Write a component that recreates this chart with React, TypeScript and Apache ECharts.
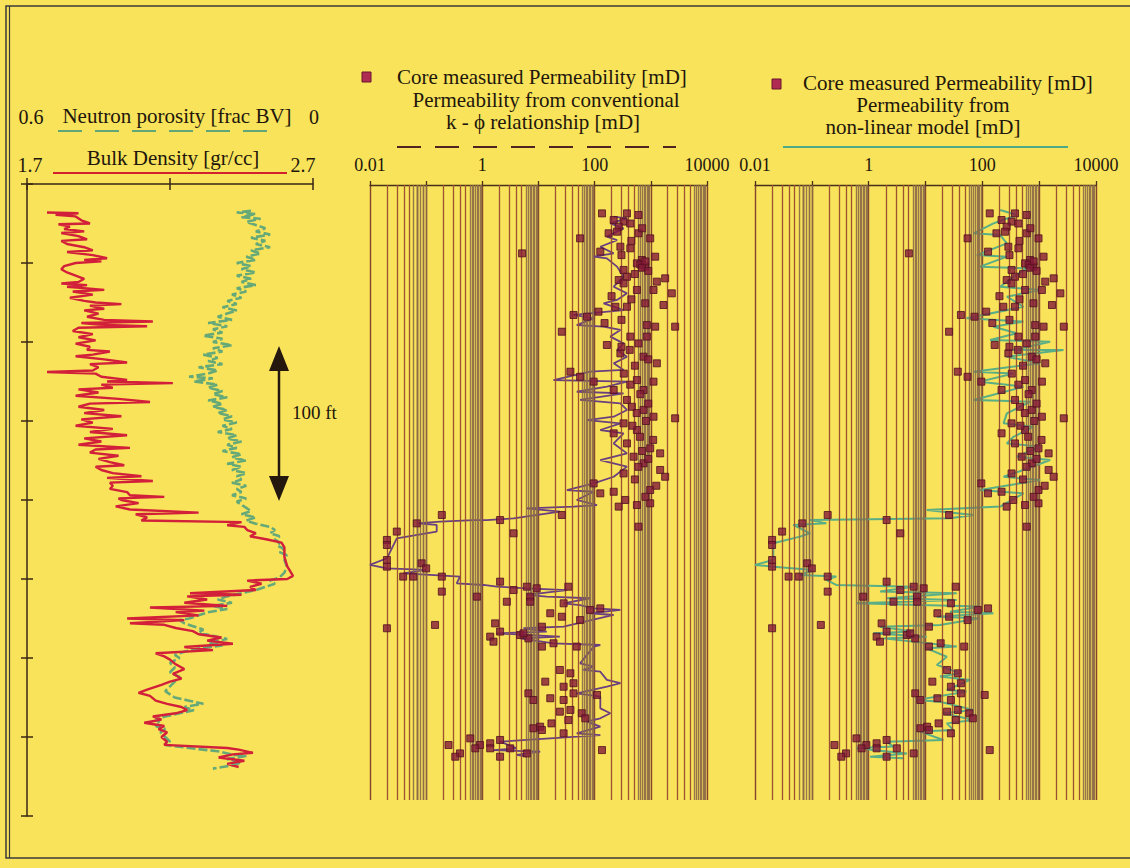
import React, { useEffect, useRef } from 'react';
import * as echarts from 'echarts';

// ---------- DATA (depth [ft from top of log], value) ----------
const bulkDensity: [number, number][] = [
  [18, 1.77], [18.5, 1.88], [19.5, 1.8], [20.5, 1.87], [23, 1.89], [25, 1.92], [25.5, 1.81], [27, 1.85], [28.5, 1.83], [30, 1.9],
  [31, 1.82], [33, 1.88], [35, 1.91], [36, 1.82], [38, 1.84], [40, 1.9], [42, 1.93], [43, 1.84], [45, 1.93], [47, 1.98],
  [48, 1.9], [49, 1.96], [50, 1.87], [52, 1.83], [54, 1.82], [56, 1.84], [58, 1.87], [60, 1.9], [62, 1.88], [63, 1.82],
  [64, 1.91], [65, 1.84], [67, 1.97], [68, 1.86], [70, 1.93], [72, 1.85], [74, 1.9], [75, 1.94], [76, 2.03], [77, 1.92],
  [79, 1.97], [80, 1.9], [82, 1.95], [84, 1.91], [86, 1.97], [87, 2.14], [88, 1.89], [89, 1.95], [90, 2.12], [91, 1.88],
  [93, 1.86], [95, 1.93], [97, 1.88], [99, 1.94], [101, 1.87], [103, 1.92], [105, 1.91], [106, 1.99], [108, 1.93], [109, 1.87],
  [111, 1.97], [113, 2.05], [114, 1.92], [116, 1.95], [118, 1.93], [119, 1.77], [120, 1.94], [122, 1.96], [124, 2.05], [125, 1.98],
  [126, 2.21], [127, 1.96], [129, 2.0], [130, 1.88], [132, 1.95], [134, 1.87], [136, 2.02], [138, 2.13], [139, 1.92], [141, 1.88],
  [143, 1.97], [145, 1.9], [147, 2.03], [149, 1.89], [151, 1.93], [153, 1.87], [155, 2.0], [157, 1.92], [159, 2.05], [161, 1.9],
  [163, 1.96], [165, 1.88], [167, 2.06], [168, 1.94], [170, 1.92], [172, 2.02], [174, 1.95], [176, 1.99], [178, 2.04], [179, 1.94],
  [181, 1.96], [183, 2.0], [185, 2.1], [186, 1.98], [188, 2.14], [189, 1.99], [191, 2.0], [193, 1.99], [195, 2.05], [197, 2.06],
  [198, 2.18], [199, 2.02], [200, 2.03], [202, 2.09], [204, 2.01], [206, 2.06], [208, 2.3], [209, 2.08], [211, 2.12], [213, 2.1],
  [214, 2.45], [216, 2.4], [217, 2.46], [219, 2.47], [221, 2.5], [223, 2.48], [225, 2.54], [227, 2.59], [230, 2.6], [236, 2.6],
  [242, 2.61], [245, 2.62], [248, 2.63], [250, 2.61], [251, 2.47], [253, 2.52], [255, 2.48], [257, 2.5], [259, 2.27], [260, 2.45],
  [261, 2.26], [263, 2.33], [265, 2.25], [267, 2.4], [268, 2.13], [270, 2.32], [271, 2.22], [273, 2.3], [275, 2.05], [276, 2.25],
  [278, 2.06], [279, 2.18], [281, 2.22], [283, 2.28], [285, 2.3], [287, 2.38], [289, 2.33], [291, 2.42], [293, 2.25], [295, 2.35],
  [297, 2.15], [299, 2.18], [301, 2.2], [304, 2.22], [307, 2.25], [310, 2.21], [313, 2.24], [315, 2.2], [317, 2.17], [320, 2.12],
  [322, 2.09], [324, 2.13], [327, 2.15], [329, 2.19], [331, 2.24], [333, 2.26], [335, 2.22], [337, 2.14], [339, 2.17], [341, 2.11],
  [343, 2.18], [345, 2.16], [347, 2.19], [350, 2.17], [353, 2.19], [355, 2.18], [357, 2.4], [358, 2.44], [360, 2.49], [361, 2.42],
  [363, 2.37], [365, 2.46], [367, 2.4], [369, 2.44]
];

const neutronPorosity: [number, number][] = [
  [17, 0.13], [18, 0.16], [19, 0.12], [21, 0.15], [22, 0.11], [24, 0.14], [26, 0.12], [28, 0.1], [30, 0.12], [32, 0.09],
  [34, 0.13], [36, 0.1], [38, 0.12], [40, 0.09], [42, 0.13], [44, 0.11], [46, 0.14], [48, 0.12], [50, 0.16], [52, 0.13],
  [54, 0.15], [56, 0.12], [58, 0.16], [60, 0.13], [62, 0.15], [64, 0.12], [66, 0.16], [68, 0.14], [70, 0.17], [72, 0.15],
  [74, 0.18], [76, 0.16], [78, 0.19], [80, 0.16], [82, 0.18], [84, 0.2], [86, 0.17], [88, 0.22], [90, 0.18], [92, 0.21],
  [94, 0.19], [96, 0.23], [98, 0.19], [100, 0.21], [102, 0.17], [104, 0.21], [106, 0.19], [108, 0.23], [110, 0.2], [112, 0.22],
  [114, 0.19], [116, 0.24], [118, 0.2], [120, 0.22], [122, 0.26], [123, 0.21], [125, 0.25], [127, 0.2], [129, 0.22], [131, 0.19],
  [133, 0.21], [135, 0.18], [137, 0.22], [139, 0.19], [141, 0.21], [143, 0.18], [145, 0.2], [147, 0.17], [149, 0.19], [151, 0.16],
  [153, 0.19], [155, 0.17], [157, 0.2], [159, 0.16], [161, 0.18], [163, 0.15], [165, 0.18], [167, 0.16], [169, 0.19], [171, 0.15],
  [173, 0.17], [175, 0.14], [177, 0.18], [179, 0.15], [181, 0.17], [183, 0.14], [185, 0.16], [187, 0.15], [189, 0.17], [191, 0.14],
  [193, 0.16], [195, 0.15], [197, 0.17], [199, 0.14], [201, 0.16], [203, 0.15], [205, 0.14], [207, 0.13], [209, 0.15], [211, 0.12],
  [213, 0.14], [215, 0.12], [217, 0.09], [219, 0.08], [221, 0.09], [223, 0.07], [225, 0.08], [227, 0.07], [229, 0.075], [231, 0.06],
  [233, 0.07], [235, 0.055], [238, 0.06], [242, 0.055], [246, 0.06], [249, 0.07], [251, 0.09], [253, 0.08], [255, 0.1], [257, 0.12],
  [259, 0.15], [261, 0.18], [263, 0.2], [265, 0.17], [267, 0.21], [269, 0.18], [271, 0.22], [273, 0.24], [275, 0.26], [276, 0.28],
  [278, 0.27], [280, 0.25], [282, 0.23], [284, 0.24], [286, 0.21], [288, 0.18], [290, 0.22], [292, 0.19], [294, 0.24], [296, 0.27],
  [298, 0.29], [300, 0.28], [303, 0.3], [306, 0.29], [309, 0.3], [312, 0.28], [315, 0.29], [318, 0.3], [321, 0.31], [323, 0.3],
  [325, 0.29], [327, 0.26], [329, 0.23], [331, 0.27], [333, 0.25], [335, 0.28], [337, 0.31], [339, 0.33], [341, 0.32], [343, 0.33],
  [345, 0.31], [347, 0.32], [350, 0.31], [353, 0.3], [355, 0.31], [357, 0.26], [359, 0.2], [361, 0.17], [362, 0.14], [364, 0.18],
  [366, 0.15], [368, 0.17], [370, 0.21]
];

// core measured permeability [depth, mD]
const corePermeability: [number, number][] = [
  [18.6, 135], [18.6, 376], [19.6, 604], [22.8, 218], [23.8, 327], [27, 268], [34.4, 55], [31.2, 604], [34.4, 974], [31.2, 177],
  [30.2, 250], [43.9, 5.1], [42.8, 126], [39.7, 287], [40.7, 431], [46, 1195], [48.1, 692], [50.2, 565], [52.3, 793], [54.4, 327],
  [58.7, 376], [60.8, 268], [61.8, 1280], [59.7, 1800], [67.1, 565], [67.1, 1116], [69.2, 2360], [76.6, 1680], [75.5, 793], [62.9, 327],
  [80.8, 117], [77.7, 234], [82.9, 42], [84, 73], [77.7, 376], [93.5, 26], [90.3, 2710], [89.3, 850], [90.3, 1195], [96.6, 850],
  [96.6, 431], [101.9, 165], [100.9, 604], [107.2, 287], [109.3, 741], [113.5, 1280], [118.8, 37], [122, 55], [125.1, 96], [124.1, 565],
  [125.1, 1116], [130.4, 741], [136.7, 376], [130.4, 218], [141, 460], [143, 741], [147.3, 1116], [148.3, 2710], [151.5, 327], [155.7, 565],
  [157.8, 218], [164.2, 376], [167.3, 974], [170.5, 1467], [172.6, 493], [176.8, 741], [181, 1467], [185.3, 1800], [183.2, 327], [189.5, 96],
  [194.8, 218], [203.2, 565], [202.1, 974], [193.7, 974], [195.8, 126], [209.5, 0.19],
  [51, 650], [53, 700], [55, 900], [49, 800], [57, 520], [45, 300], [71, 200], [73, 450], [86, 300], [88, 150],
  [103, 300], [105, 420], [111, 900], [115, 520], [120, 330], [127, 430], [133, 650], [139, 900], [145, 560], [150, 820],
  [153, 470], [160, 640], [162, 1100], [169, 700], [174, 900], [179, 600], [187, 520], [191, 1250], [198, 800], [200, 350],
  [36, 450], [28, 700], [25, 430],
  [204.2, 268], [216.9, 604], [209.5, 26], [214.8, 0.068], [212.7, 2.07], [221.1, 3.6], [220, 0.03], [225.3, 0.02], [228.5, 0.02], [238, 0.02],
  [242.2, 0.02], [240.1, 0.083], [243.3, 0.1], [248.5, 0.039], [248.5, 0.059], [248.5, 0.19], [258, 0.19], [261.2, 0.8], [251.7, 2.07], [257, 3.6],
  [254.9, 6.2], [255.9, 9.3], [254.9, 34], [261.2, 7.1], [264.4, 2.73], [264.4, 7.1], [265.4, 28], [269.6, 83], [268.6, 126], [271.7, 16.2],
  [273.9, 26], [276, 55], [281.2, 0.02], [279.1, 0.144], [278.1, 1.69], [286.5, 1.38], [289.7, 1.58], [283.3, 2.07], [285.5, 4.7], [287.6, 6.6],
  [280.2, 11.5], [284.4, 5.4], [292.8, 11.5], [290.7, 18.5], [292.8, 48], [307.6, 24], [309.7, 37], [315, 13.2], [318.2, 28], [316, 42],
  [322.4, 42], [322.4, 6.6], [326.6, 8.1], [325.5, 16.2], [326.6, 28], [323.4, 110], [334, 24], [332.9, 37], [339.3, 34], [335, 59],
  [338.2, 68], [344.5, 8.1], [343.5, 10.7], [341.4, 17], [345.6, 11.5], [347.7, 28], [350.9, 0.61], [355.1, 0.91], [354, 1.38], [351.9, 2.07],
  [355.1, 0.25], [360.4, 0.4], [362.5, 0.33], [357.2, 0.75], [357.2, 1.38], [357.2, 3.13], [360.4, 6.2], [362.5, 2.07], [358.3, 135]
];

// permeability from conventional k-phi relationship [depth, mD]
const kPhiPermeability: [number, number][] = [
  [20.7, 218], [21.7, 376], [24.9, 190], [28.1, 327], [33.3, 165], [35.5, 250], [39.7, 126], [43.9, 218], [46, 96], [47.1, 165],
  [52.3, 250], [58.7, 327], [65, 218], [69.2, 376], [73.4, 250], [75.5, 144], [79.8, 327], [82.9, 42], [85, 96], [89.3, 48],
  [90.3, 144], [92.4, 287], [96.6, 190], [100.9, 327], [105.1, 250], [109.3, 376], [113.5, 218], [117.7, 327], [118.8, 83], [124.1, 18.5],
  [125.1, 376], [128.3, 165], [131.5, 48], [132.5, 327], [136.7, 55], [138.8, 287], [143, 376], [147.3, 218], [149.4, 73], [151.5, 287],
  [155.7, 126], [157.8, 327], [164.2, 218], [170.5, 376], [174.7, 126], [178.9, 376], [185.3, 218], [189.5, 96], [193.7, 32], [194.8, 96],
  [200, 48], [203.2, 110], [204.2, 42], [205.3, 6.2], [207.4, 24], [211.6, 3.6], [212.7, 1.2], [212.7, 0.7], [213.7, 0.177], [214.8, 0.068],
  [215.8, 0.154], [220, 0.154], [221.1, 0.1], [224.3, 0.03], [236.9, 0.02], [241.1, 0.01], [243.3, 0.02], [244.3, 0.1], [246.4, 0.039], [247.5, 0.14],
  [248.5, 0.4], [252.8, 0.35], [253.8, 1.05], [254.9, 1.81], [255.9, 6.2], [257, 32], [260.1, 6.2], [261.2, 14], [262.2, 83], [265.4, 28],
  [266.5, 55], [268.6, 96], [269.6, 287], [271.7, 83], [272.8, 218], [280.2, 28], [281.2, 5.4], [283.3, 14], [284.4, 1.81], [286.5, 24],
  [287.6, 4.7], [290.7, 18.5], [291.8, 126], [292.8, 96], [303.4, 55], [305.5, 96], [307.6, 63], [308.7, 126], [313.9, 165], [316, 287],
  [318.2, 165], [322.4, 48], [324.5, 126], [331.9, 126], [335, 190], [338.2, 126], [340.3, 73], [343.5, 126], [347.7, 48], [348.8, 126],
  [351.9, 6.2], [353, 2.07], [357.2, 4.1], [358.3, 1.58], [359.3, 10.7], [361.4, 4.1], [362.5, 6.2]
];

// permeability from non-linear model [depth, mD]
const nonLinearPermeability: [number, number][] = [
  [16.5, 206], [19.6, 405], [24.9, 157], [31.2, 70], [32.3, 206], [37.6, 270], [45, 80], [46, 270], [52.3, 91], [53.4, 607],
  [58.7, 353], [65, 206], [67.1, 1040], [71.3, 270], [77.7, 530], [85, 53], [87.1, 530], [90.3, 157], [94.5, 405], [98.7, 137],
  [99.8, 1560], [105.1, 353], [105.1, 2680], [109.3, 270], [113.5, 1040], [118.8, 70], [119.9, 353], [125.1, 91], [128.3, 530], [136.7, 70],
  [137.8, 694], [145.2, 270], [151.5, 236], [153.6, 795], [160, 353], [164.2, 270], [166.3, 1040], [172.6, 405], [174.7, 1560], [181, 530],
  [185.3, 236], [187.4, 1040], [193.7, 91], [195.8, 530], [204.2, 206], [206.4, 10.5], [209.5, 70], [211.6, 27], [212.7, 0.093], [214.8, 0.18],
  [215.8, 0.047], [221.1, 0.093], [223.2, 0.062], [227.4, 0.021], [238, 0.021], [241.1, 0.01], [242.2, 0.021], [244.3, 0.106], [247.5, 0.062], [248.5, 0.27],
  [250.6, 0.18], [253.8, 0.27], [254.9, 6.1], [258, 1.59], [259.1, 35.5], [262.2, 2.08], [263.3, 35.5], [265.4, 0.62], [266.5, 8], [267.5, 91],
  [270.7, 27], [271.7, 157], [273.9, 15.8], [274.9, 91], [279.1, 18], [280.2, 1.59], [283.3, 6.1], [284.4, 1.21], [286.5, 10.5], [287.6, 1.82],
  [292.8, 35.5], [293.9, 10.5], [299.2, 23.7], [304.4, 15.8], [306.6, 23.7], [309.7, 40.5], [311.8, 18], [313.9, 61], [320.3, 23.7], [321.3, 53],
  [326.6, 7], [327.7, 18], [332.9, 70], [335, 20.7], [339.3, 70], [341.4, 23.7], [345.6, 31], [346.6, 8], [351.9, 20.7], [353, 2.08],
  [356.1, 2.72], [357.2, 0.62], [360.4, 4.7], [362.5, 1.06], [363.5, 4.1]
];

// log grid: decade starts and intermediate grid multipliers
const logDecades = [0.01, 0.1, 1, 10, 100, 1000];
const gridMultipliers = [2, 3, 4, 5, 6, 6.5, 7, 7.5, 8, 8.5, 9, 9.5];
const logTickLabels: Record<string, string> = { '-2': '0.01', '0': '1', '2': '100', '4': '10000' };

const SERIF = '"Liberation Serif", "Times New Roman", serif';
const INK = '#22160c';
const BG = '#F8E35A';
const AXIS = '#3a2616';
const GRID_LINE = '#9a5230';
const GRID_BAND = '#8c6a48';

function minorGridLines() {
  const out: any[] = [];
  logDecades.forEach((d) => {
    gridMultipliers.forEach((m) => {
      const band = m >= 6;
      out.push({
        xAxis: +(d * m).toPrecision(6),
        lineStyle: band
          ? { color: GRID_BAND, width: 1.4, type: 'solid', opacity: 0.9 }
          : { color: GRID_LINE, width: 1.3, type: 'solid', opacity: 1 },
      });
    });
  });
  return out;
}

function gridSeries(name: string, axisIndex: number, data: any[]) {
  return {
    name,
    type: 'line',
    xAxisIndex: axisIndex,
    yAxisIndex: axisIndex,
    data: [],
    silent: true,
    z: 1,
    color: GRID_LINE,
    itemStyle: { color: GRID_LINE },
    lineStyle: { color: GRID_LINE },
    markLine: {
      silent: true,
      symbol: ['none', 'none'],
      label: { show: false },
      animation: false,
      lineStyle: { color: GRID_LINE, width: 1.3, type: 'solid', opacity: 1 },
      data,
    },
  };
}

function logAxis(gridIndex: number) {
  return {
    type: 'log',
    logBase: 10,
    gridIndex,
    min: 0.01,
    max: 10000,
    position: 'top',
    axisLine: { show: true, onZero: false, lineStyle: { color: '#4a2e1c', width: 1.3 } },
    axisTick: { show: true, inside: false, length: 4, lineStyle: { color: '#4a2e1c', width: 1.3 } },
    axisLabel: {
      show: true,
      margin: 11,
      color: INK,
      fontFamily: SERIF,
      fontSize: 18,
      showMinLabel: true,
      showMaxLabel: true,
      formatter: (v: number) => {
        const e = Math.round(Math.log10(v));
        return logTickLabels[String(e)] ?? '';
      },
    },
    splitLine: { show: true, lineStyle: { color: '#86442a', width: 1.4 } },
    minorTick: { show: false },
    minorSplitLine: { show: false },
  };
}

function depthAxis(gridIndex: number, min: number, max: number) {
  return {
    type: 'value',
    gridIndex,
    min,
    max,
    inverse: true,
    show: false,
    axisLine: { onZero: false },
    splitLine: { show: false },
  };
}

function legendText(text: string, x: number, y: number, align: string) {
  return {
    type: 'text',
    x,
    y,
    silent: true,
    style: { text, fontSize: 21, fontFamily: SERIF, fill: INK, align, verticalAlign: 'middle' },
  };
}

function numText(text: string, x: number, y: number) {
  return {
    type: 'text',
    x,
    y,
    silent: true,
    style: { text, fontSize: 20, fontFamily: SERIF, fill: INK, align: 'center', verticalAlign: 'middle' },
  };
}

export default function App() {
  const ref = useRef<HTMLDivElement>(null);

  useEffect(() => {
    if (!ref.current) return;
    const chart = echarts.init(ref.current, undefined, { renderer: 'svg' });
    const grid = minorGridLines();
    const coreSymbol = {
      color: '#861a38',
      borderColor: '#50101f',
      borderWidth: 1,
    };

    const option: any = {
      animation: false,
      backgroundColor: BG,
      grid: [
        { left: 27, top: 184, width: 286, height: 632, containLabel: false },
        { left: 370, top: 185, width: 337, height: 615, containLabel: false },
        { left: 755, top: 185, width: 341, height: 615, containLabel: false },
      ],
      xAxis: [
        {
          type: 'value', gridIndex: 0, min: 1.7, max: 2.7, interval: 0.5, position: 'top',
          axisLine: { show: true, onZero: false, lineStyle: { color: AXIS, width: 1.5 } },
          axisTick: { show: true, inside: false, length: 6, lineStyle: { color: AXIS, width: 1.5 } },
          axisLabel: { show: false }, splitLine: { show: false },
        },
        {
          // neutron axis: placed in the bottom slot, moved up onto the top line; ticks point down
          type: 'value', gridIndex: 0, min: 0, max: 0.6, interval: 0.3, inverse: true, position: 'bottom', offset: -632,
          axisLine: { show: false, onZero: false },
          axisTick: { show: true, inside: false, length: 6, lineStyle: { color: AXIS, width: 1.5 } },
          axisLabel: { show: false }, splitLine: { show: false },
        },
        logAxis(1),
        logAxis(2),
      ],
      yAxis: [
        {
          type: 'value', gridIndex: 0, min: 0, max: 400, interval: 50, inverse: true, position: 'left',
          axisLine: { show: true, onZero: false, lineStyle: { color: AXIS, width: 1.5 } },
          axisTick: { show: true, inside: false, length: 6, lineStyle: { color: AXIS, width: 1.5 } },
          axisLabel: { show: false }, splitLine: { show: false },
        },
        {
          // second depth axis only for the tick halves pointing into the track
          type: 'value', gridIndex: 0, min: 0, max: 400, interval: 50, inverse: true, position: 'right', offset: -286,
          axisLine: { show: false, onZero: false },
          axisTick: { show: true, inside: false, length: 6, lineStyle: { color: AXIS, width: 1.5 } },
          axisLabel: { show: false }, splitLine: { show: false },
        },
        depthAxis(1, 0.63, 389.9),
        depthAxis(2, 0.63, 389.9),
      ],
      series: [
        {
          name: 'Neutron porosity [frac BV]', type: 'line', xAxisIndex: 1, yAxisIndex: 0,
          data: neutronPorosity.map(([d, v]) => [v, d]),
          symbol: 'none', z: 3,
          lineStyle: { color: '#66a979', width: 2.6, type: [9, 3] },
        },
        {
          name: 'Bulk Density [gr/cc]', type: 'line', xAxisIndex: 0, yAxisIndex: 0,
          data: bulkDensity.map(([d, v]) => [v, d]),
          symbol: 'none', z: 4,
          lineStyle: { color: '#d21f3a', width: 2.4 },
        },
        gridSeries('grid-mid', 2, grid),
        {
          name: 'Permeability from conventional k - ϕ relationship [mD]', type: 'line', xAxisIndex: 2, yAxisIndex: 2,
          data: kPhiPermeability.map(([d, v]) => [v, d]),
          symbol: 'none', z: 3,
          lineStyle: { color: '#6a3f80', width: 1.8 },
        },
        {
          name: 'Core measured Permeability [mD]', type: 'scatter', xAxisIndex: 2, yAxisIndex: 2,
          data: corePermeability.map(([d, v]) => [v, d]),
          symbol: 'rect', symbolSize: 7, z: 5,
          itemStyle: coreSymbol,
        },
        gridSeries('grid-right', 3, grid),
        {
          name: 'Permeability from non-linear model [mD]', type: 'line', xAxisIndex: 3, yAxisIndex: 3,
          data: nonLinearPermeability.map(([d, v]) => [v, d]),
          symbol: 'none', z: 3,
          lineStyle: { color: '#5aae86', width: 2 },
        },
        {
          name: 'Core measured Permeability [mD] ', type: 'scatter', xAxisIndex: 3, yAxisIndex: 3,
          data: corePermeability.map(([d, v]) => [v, d]),
          symbol: 'rect', symbolSize: 7, z: 5,
          itemStyle: coreSymbol,
        },
      ],
      graphic: [
        // frame
        { type: 'rect', shape: { x: 6, y: 6, width: 1140, height: 852 }, silent: true, style: { fill: 'none', stroke: '#3b3b3b', lineWidth: 1.5 } },
        { type: 'line', shape: { x1: 9.5, y1: 6, x2: 9.5, y2: 858 }, silent: true, style: { stroke: '#3b3b3b', lineWidth: 1.2 } },
        // left headers
        numText('0.6', 31, 117),
        legendText('Neutron porosity [frac BV]', 177, 116, 'center'),
        numText('0', 314, 117),
        { type: 'line', shape: { x1: 58, y1: 131, x2: 274, y2: 131 }, silent: true, style: { stroke: '#5fa679', lineWidth: 2, lineDash: [24, 13] } },
        numText('1.7', 30, 165),
        legendText('Bulk Density [gr/cc]', 173, 158, 'center'),
        numText('2.7', 303, 165),
        { type: 'line', shape: { x1: 53, y1: 173, x2: 287, y2: 173 }, silent: true, style: { stroke: '#d2202f', lineWidth: 2 } },
        // 100 ft arrow
        { type: 'line', shape: { x1: 279, y1: 360, x2: 279, y2: 487 }, silent: true, style: { stroke: '#24170e', lineWidth: 2.5 } },
        { type: 'polygon', shape: { points: [[269, 371], [279, 346], [289, 371]] }, silent: true, style: { fill: '#24170e' } },
        { type: 'polygon', shape: { points: [[269, 476], [279, 501], [289, 476]] }, silent: true, style: { fill: '#24170e' } },
        {
          type: 'text', x: 292, y: 412, silent: true,
          style: { text: '100 ft', fontSize: 19, fontFamily: SERIF, fill: INK, align: 'left', verticalAlign: 'middle' },
        },
        // middle legend
        { type: 'rect', shape: { x: 362, y: 72, width: 9, height: 10 }, silent: true, style: { fill: '#b02b52', stroke: '#6a1530', lineWidth: 1 } },
        legendText('Core measured Permeability [mD]', 397, 77, 'left'),
        legendText('Permeability from conventional', 546, 100, 'center'),
        legendText('k - ϕ relationship [mD]', 543, 122, 'center'),
        { type: 'line', shape: { x1: 397, y1: 147, x2: 676, y2: 147 }, silent: true, style: { stroke: '#4e2420', lineWidth: 2, lineDash: [24, 14] } },
        // right legend
        { type: 'rect', shape: { x: 772, y: 79, width: 9, height: 10 }, silent: true, style: { fill: '#b02b52', stroke: '#6a1530', lineWidth: 1 } },
        legendText('Core measured Permeability [mD]', 803, 83, 'left'),
        legendText('Permeability from', 933, 105, 'center'),
        legendText('non-linear model [mD]', 923, 127, 'center'),
        { type: 'line', shape: { x1: 783, y1: 147, x2: 1068, y2: 147 }, silent: true, style: { stroke: '#4ea987', lineWidth: 2 } },
      ],
    };

    chart.setOption(option);
    return () => chart.dispose();
  }, []);

  return (
    <div
      ref={ref}
      style={{ position: 'fixed', left: 0, top: 0, width: 1130, height: 868, background: BG }}
    />
  );
}
